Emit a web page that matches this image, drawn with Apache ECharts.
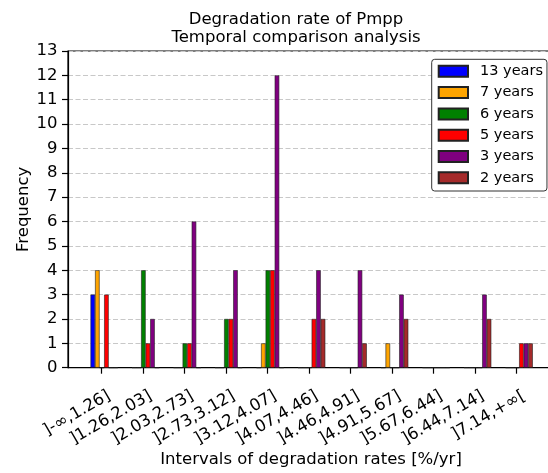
<!DOCTYPE html>
<html><head><meta charset="utf-8">
<script src="https://cdn.jsdelivr.net/npm/echarts@6/dist/echarts.min.js"></script>
<style>html,body{margin:0;padding:0;background:#fff}#c{width:548px;height:473px}</style>
</head><body><div id="c"></div>
<script>
const categories = [']-∞,1.26]', ']1.26,2.03]', ']2.03,2.73]', ']2.73,3.12]', ']3.12,4.07]',
  ']4.07,4.46]', ']4.46,4.91]', ']4.91,5.67]', ']5.67,6.44]', ']6.44,7.14]', ']7.14,+∞['];
const seriesNames = ['13 years', '7 years', '6 years', '5 years', '3 years', '2 years'];
const years13 = [3, 0, 0, 0, 0, 0, 0, 0, 0, 0, 0];
const years7  = [4, 0, 0, 0, 1, 0, 0, 1, 0, 0, 0];
const years6  = [0, 4, 1, 2, 4, 0, 0, 0, 0, 0, 0];
const years5  = [3, 1, 1, 2, 4, 2, 0, 0, 0, 0, 1];
const years3  = [0, 2, 6, 4, 12, 4, 4, 3, 0, 3, 1];
const years2  = [0, 0, 0, 0, 0, 2, 1, 2, 0, 2, 1];
const colors = ['#0000ff', '#ffa500', '#008000', '#ff0000', '#800080', '#a52a2a'];
const yMin = 0, yMax = 13, yInterval = 1;
const titleLines = ['Degradation rate of Pmpp', 'Temporal comparison analysis'];
const xName = 'Intervals of degradation rates [%/yr]';
const yName = 'Frequency';

const FONT = '"DejaVu Sans", "Liberation Sans", sans-serif';
const allValues = [years13, years7, years6, years5, years3, years2];
const tickShift = -0.064;
const labelShift = 0.12;

const chart = echarts.init(document.getElementById('c'), null, {renderer: 'canvas'});
chart.setOption({
  animation: false,
  backgroundColor: '#fff',
  graphic: [
    {type: 'text', x: 296, y: 19.5, style: {text: titleLines[0], fontSize: 16.5, fontFamily: FONT, fill: '#000', align: 'center', verticalAlign: 'middle'}},
    {type: 'text', x: 296, y: 38, style: {text: titleLines[1], fontSize: 16.5, fontFamily: FONT, fill: '#000', align: 'center', verticalAlign: 'middle'}}
  ],
  grid: {left: 68, top: 51, width: 486, height: 316.7, show: true, borderColor: '#000', borderWidth: 1.2,
    backgroundColor: 'transparent', containLabel: false, outerBoundsMode: 'none'},
  legend: {
    data: seriesNames, orient: 'vertical', left: 431.7, top: 59.3,
    itemWidth: 29.3, itemHeight: 11, itemGap: 6.3, icon: 'rect',
    padding: [4.5, 4, 5.7, 6], backgroundColor: '#fff', borderColor: '#333', borderWidth: 1, borderRadius: 3,
    textStyle: {fontSize: 14.5, fontFamily: FONT, color: '#000', lineHeight: 15, padding: [0, 0, 0, 7]}
  },
  xAxis: {
    type: 'value', min: -0.871, max: 10.84,
    name: xName, nameLocation: 'middle', nameGap: 84, nameMoveOverlap: false,
    nameTextStyle: {fontSize: 16.5, fontFamily: FONT, color: '#000'},
    axisLine: {onZero: false, lineStyle: {color: '#000', width: 1.2}},
    axisTick: {show: true, length: 6, lineStyle: {color: '#000', width: 1.2},
      customValues: categories.map((c, i) => i + tickShift)},
    axisLabel: {rotate: 30, margin: 27, fontSize: 16.5, fontFamily: FONT, color: '#000',
      customValues: categories.map((c, i) => i + labelShift),
      formatter: v => categories[Math.round(v)]},
    splitLine: {show: false}
  },
  yAxis: {
    type: 'value', min: yMin, max: yMax, interval: yInterval,
    name: yName, nameLocation: 'middle', nameGap: 36, nameMoveOverlap: false,
    nameTextStyle: {fontSize: 16.5, fontFamily: FONT, color: '#000'},
    axisLine: {show: true, onZero: false, lineStyle: {color: '#000', width: 1.2}},
    axisTick: {show: true, length: 6, lineStyle: {color: '#000', width: 1.2}},
    axisLabel: {margin: 10.5, fontSize: 16.5, fontFamily: FONT, color: '#000'},
    splitLine: {show: true, lineStyle: {color: '#c8c8c8', width: 1.2, type: [5, 2.5]}}
  },
  series: allValues.map((vals, k) => ({
    type: 'bar', name: seriesNames[k],
    data: vals.map((v, i) => [i, v]),
    barWidth: 4.55, barGap: '0%',
    itemStyle: {color: colors[k], borderColor: '#222', borderWidth: 0.6}
  }))
});
</script></body></html>
